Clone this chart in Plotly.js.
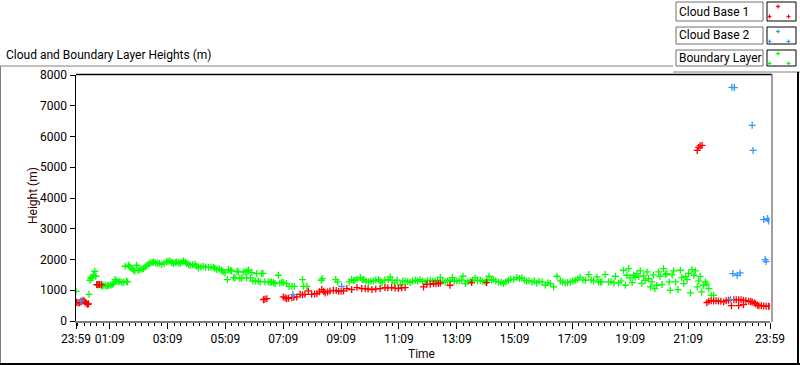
<!DOCTYPE html>
<html><head><meta charset="utf-8">
<script src="https://cdn.plot.ly/plotly-3.0.1.min.js"></script>
<style>html,body{margin:0;padding:0;background:#fff;}#chart{width:800px;height:365px;}</style>
</head><body><div id="chart"></div>
<script>
// x: minutes after 23:59 of the previous day, y: height in metres
const tickMinutes = [0, 70, 190, 310, 430, 550, 670, 790, 910, 1030, 1150, 1270, 1440];
const tickLabels = ['23:59','01:09','03:09','05:09','07:09','09:09','11:09','13:09','15:09','17:09','19:09','21:09','23:59'];
const yTicks = [0,1000,2000,3000,4000,5000,6000,7000,8000];
const seriesNames = ['Cloud Base 1','Cloud Base 2','Boundary Layer'];

const cloudBase1 = [[1,608],[4,590],[7,597],[10,620],[12,641],[15,673],[17,640],[19,619],[21,580],[24,543],[26,560],
[43,1184],[46,1184],[49,1184],[53,1184],
[389,695],[392,710],[396,727],[430,782],[434,760],[437,727],[441,740],[448,760],[452,770],[458,782],[465,869],[470,850],[475,869],
[482,977],[489,869],[495,880],[500,890],[505,950],[510,1021],[514,960],[517,912],[522,940],[527,977],[534,999],[540,990],[545,966],
[550,970],[555,977],[562,1053],[572,1021],[583,1086],[593,1053],[600,1053],[606,1040],[614,1021],[622,1040],[631,1053],[641,1086],
[647,1080],[655,1086],[662,1070],[669,1053],[676,1080],[683,1086],[721,1108],[728,1194],[735,1194],[742,1216],[747,1210],[752,1216],
[756,1238],[776,1162],[821,1249],[852,1249],
[1289,5548],[1292,5645],[1295,5700],[1299,5711],
[1309,597],[1313,640],[1318,660],[1323,651],[1328,660],[1333,651],[1338,640],[1344,619],[1349,660],[1354,673],[1360,500],[1365,695],
[1370,690],[1375,695],[1375,500],[1380,690],[1385,673],[1385,532],[1390,660],[1396,641],[1400,630],[1403,619],[1407,590],[1410,565],
[1414,520],[1417,500],[1422,495],[1427,489],[1432,480],[1437,478],[1440,478]];

const cloudBase2 = [[10,650],[450,858],[551,1129],[1358,706],[1361,7600],[1363,1542],[1366,7590],[1372,1488],[1378,1564],
[1403,6362],[1405,5548],[1427,3300],[1430,1998],[1432,1933],[1435,3332],[1437,3256]];

const boundaryLayer = [[0,966],[27,869],[29,1325],[31,1390],[33,1433],[36,1488],[39,1618],[41,1455],[45,1160],
[52,1150],[55,1140],[58,1160],[62,1150],[65,1140],[68,1160],[72,1160],[75,1190],[78,1220],[81,1347],[84,1300],[88,1270],[91,1290],
[95,1249],[99,1260],[102,1781],[105,1290],[107,1270],[109,1813],[112,1760],[116,1705],[119,1660],[122,1629],[126,1813],[129,1640],
[133,1672],[137,1690],[140,1705],[144,1760],[147,1813],[151,1850],[154,1890],[158,1900],[161,1922],[165,1890],[169,1868],[173,1880],
[178,1846],[183,1880],[188,1922],[191,1940],[195,1955],[199,1900],[202,1868],[206,1900],[209,1922],[213,1900],[216,1868],[220,1910],
[223,1955],[227,1920],[230,1868],[234,1840],[237,1813],[242,1830],[247,1846],[250,1780],[254,1727],[259,1760],[264,1781],[269,1750],
[275,1737],[280,1750],[285,1759],[288,1720],[292,1672],[297,1700],[302,1650],[305,1600],[309,1564],[314,1346],[316,1672],[320,1650],
[323,1629],[327,1412],[330,1400],[334,1618],[337,1596],[340,1379],[344,1400],[347,1596],[351,1596],[354,1401],[355,1618],[358,1650],
[362,1400],[365,1575],[367,1300],[372,1303],[375,1542],[378,1300],[382,1270],[385,1542],[388,1550],[392,1280],[399,1270],[403,1260],
[406,1270],[410,1240],[413,1216],[420,1488],[423,1238],[427,1260],[430,1249],[437,1216],[442,1129],[448,1129],[453,1129],[470,1347],
[472,1129],[479,1129],[509,1325],[511,1379],[539,1347],[543,1270],[567,1270],[572,1347],[576,1320],[579,1325],[583,1360],[590,1412],
[594,1340],[597,1347],[602,1300],[607,1270],[612,1290],[617,1303],[622,1330],[628,1347],[631,1300],[635,1238],[641,1330],[648,1347],
[652,1433],[656,1320],[661,1238],[666,1330],[673,1184],[678,1300],[683,1303],[688,1280],[693,1249],[698,1300],[704,1325],[709,1300],
[714,1347],[719,1300],[724,1270],[729,1310],[735,1325],[740,1290],[745,1303],[750,1330],[756,1412],[761,1300],[766,1270],[771,1300],
[776,1325],[781,1412],[785,1290],[790,1303],[795,1310],[800,1330],[803,1455],[808,1216],[813,1280],[818,1303],[823,1330],[828,1401],
[833,1310],[839,1325],[844,1290],[849,1270],[853,1320],[857,1455],[862,1330],[866,1347],[871,1300],[877,1270],[882,1250],[887,1216],
[892,1280],[897,1325],[902,1360],[908,1347],[915,1412],[920,1380],[925,1401],[930,1330],[935,1303],[940,1310],[946,1270],[951,1300],
[956,1238],[961,1290],[967,1270],[974,1162],[979,1240],[984,1216],[991,1108],[998,1455],[1005,1303],[1010,1270],[1015,1238],[1020,1250],
[1026,1270],[1031,1300],[1036,1325],[1041,1360],[1046,1412],[1052,1340],[1057,1325],[1064,1509],[1069,1340],[1074,1303],[1081,1433],
[1084,1270],[1088,1270],[1091,1270],[1098,1509],[1105,1270],[1110,1280],[1116,1238],[1119,1455],[1126,1238],[1131,1300],[1136,1650],
[1140,1162],[1143,1488],[1147,1705],[1150,1400],[1154,1249],[1157,1488],[1160,1420],[1164,1542],[1168,1450],[1171,1629],[1174,1216],
[1178,1466],[1181,1325],[1185,1596],[1188,1379],[1192,1108],[1195,1270],[1198,1500],[1201,1053],[1205,1162],[1209,1596],[1212,1455],
[1216,1184],[1219,1705],[1223,1509],[1226,1542],[1231,1270],[1233,999],[1237,1500],[1240,1629],[1244,1270],[1249,1021],[1254,1650],
[1257,1412],[1261,1216],[1265,1450],[1268,1347],[1271,1550],[1275,912],[1278,1672],[1282,1488],[1285,1629],[1289,1108],[1292,1303],
[1295,1450],[1298,945],[1302,1162],[1306,1270],[1309,1200],[1313,1053],[1318,836],[1323,836]];

const colors = ['#ff0000', '#3399ff', '#00ff00'];
const FONT = 'Roboto, "Noto Sans", sans-serif';

function mk(data, i) {
  return {
    type: 'scatter', mode: 'markers', name: seriesNames[i],
    x: data.map(d => d[0]), y: data.map(d => d[1]),
    marker: {symbol: 'cross-thin', size: 5, color: colors[i], line: {color: colors[i], width: 1.3}},
    showlegend: false, hoverinfo: 'x+y'
  };
}
const traces = [mk(boundaryLayer, 2), mk(cloudBase1, 0), mk(cloudBase2, 1)];

// pixel -> paper helpers for decorations
const L = 76, Rm = 30, T = 75, Bm = 44, W = 800, H = 365;
const PW = W - L - Rm, PH = H - T - Bm;
const X = px => (px - L) / PW;
const Y = py => (H - Bm - py) / PH;
function line(x0, y0, x1, y1, color, w) {
  return {type: 'line', xref: 'paper', yref: 'paper', x0: X(x0), y0: Y(y0), x1: X(x1), y1: Y(y1),
          line: {color: color, width: w || 1}, layer: 'above'};
}
function rect(x0, y0, x1, y1, color) {
  return {type: 'rect', xref: 'paper', yref: 'paper', x0: X(x0), y0: Y(y0), x1: X(x1), y1: Y(y1),
          line: {color: color, width: 1}, fillcolor: 'rgba(0,0,0,0)', layer: 'above'};
}
const shapes = [
  line(76, 74.5, 772, 74.5, '#000', 1.5),
  line(772, 74, 772, 322, '#808080', 1.5),
  line(0, 66, 673, 66, '#808080', 1),
  line(673, 72, 800, 72, '#808080', 1),
  line(0.5, 66, 0.5, 365, '#808080', 1),
  line(0, 364, 800, 364, '#000', 2),
  line(798, 72, 798, 365, '#000', 2)
];
const annotations = [
  {text: 'Cloud and Boundary Layer Heights (m)', xref: 'paper', yref: 'paper', x: X(4), y: Y(55),
   xanchor: 'left', yanchor: 'middle', showarrow: false, font: {size: 12, color: '#000', family: FONT}},
  {text: 'Height (m)', xref: 'paper', yref: 'paper', x: X(33), y: Y(196), textangle: -90,
   xanchor: 'center', yanchor: 'middle', showarrow: false, font: {size: 12, color: '#3a0000', family: FONT}},
  {text: 'Time', xref: 'paper', yref: 'paper', x: X(421), y: Y(354),
   xanchor: 'center', yanchor: 'middle', showarrow: false, font: {size: 12, color: '#1a0010', family: FONT}}
];
// custom legend boxes
const boxTops = [2, 27, 50], boxBots = [21, 44, 66];
const plusOffsets = [[11, 4.5], [2.5, 14.5], [21.5, 14.5]];
seriesNames.forEach((name, i) => {
  const t = boxTops[i], b = boxBots[i];
  shapes.push(rect(676, t, 763, b, '#707070'));
  shapes.push(rect(767, t, 796, b, '#000'));
  annotations.push({text: name, xref: 'paper', yref: 'paper', x: X(677), y: Y((t + b) / 2),
    xanchor: 'left', yanchor: 'middle', showarrow: false, font: {size: 12, color: '#000', family: FONT}});
  plusOffsets.forEach(o => {
    const cx = 767 + o[0], cy = t + o[1] + (i === 2 ? -1 : 0);
    shapes.push(line(cx - 2, cy, cx + 2, cy, colors[i], 1.2));
    shapes.push(line(cx, cy - 2, cx, cy + 2, colors[i], 1.2));
  });
});

const layout = {
  width: W, height: H,
  margin: {l: L, r: Rm, t: T, b: Bm, pad: 0},
  paper_bgcolor: '#fff', plot_bgcolor: '#fff',
  font: {family: FONT, size: 12, color: '#000'},
  xaxis: {
    range: [0, 1440], tickmode: 'array', tickvals: tickMinutes, ticktext: tickLabels,
    ticks: 'outside', ticklen: 6, tickwidth: 1, tickcolor: '#000',
    showgrid: false, zeroline: false, showline: true, linecolor: '#808080', linewidth: 1.5,
    tickfont: {size: 12, color: '#000', family: FONT},
    minor: {tickmode: 'linear', tick0: 70, dtick: 120 / 9, ticks: 'outside', ticklen: 3, tickwidth: 1, tickcolor: '#000', showgrid: false},
    fixedrange: true
  },
  yaxis: {
    range: [0, 8000], tickmode: 'array', tickvals: yTicks, ticktext: yTicks.map(String),
    ticks: 'outside', ticklen: 5, tickwidth: 1, tickcolor: '#000',
    showgrid: false, zeroline: false, showline: true, linecolor: '#000', linewidth: 1.5,
    tickfont: {size: 12, color: '#000', family: FONT}, fixedrange: true
  },
  shapes: shapes, annotations: annotations, showlegend: false
};
Plotly.newPlot('chart', traces, layout, {displayModeBar: false, staticPlot: true});
</script></body></html>
